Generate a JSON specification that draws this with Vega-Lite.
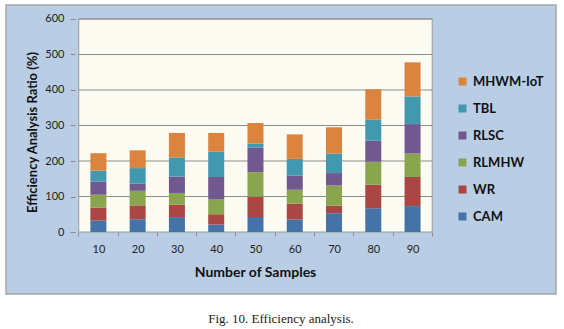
{
  "$schema": "https://vega.github.io/schema/vega-lite/v6.json",
  "width": 550,
  "height": 289,
  "autosize": "none",
  "padding": {"left": 6, "top": 5, "right": 8, "bottom": 35},
  "background": "#ffffff",
  "config": {
    "view": {"fill": "#B9CDE5", "stroke": "#A6A6A6", "strokeWidth": 1.5},
    "font": "Lato"
  },
  "title": {
    "text": "Fig. 10.  Efficiency analysis.",
    "orient": "bottom",
    "anchor": "middle",
    "frame": "group",
    "font": "Liberation Serif",
    "fontSize": 13,
    "fontWeight": "normal",
    "color": "#222222",
    "offset": 19
  },
  "datasets": {
    "bars": [
      {"n": 10, "series": "CAM", "v": 32}, {"n": 10, "series": "WR", "v": 37}, {"n": 10, "series": "RLMHW", "v": 36}, {"n": 10, "series": "RLSC", "v": 37}, {"n": 10, "series": "TBL", "v": 31}, {"n": 10, "series": "MHWM-IoT", "v": 49},
      {"n": 20, "series": "CAM", "v": 36}, {"n": 20, "series": "WR", "v": 39}, {"n": 20, "series": "RLMHW", "v": 41}, {"n": 20, "series": "RLSC", "v": 20}, {"n": 20, "series": "TBL", "v": 44}, {"n": 20, "series": "MHWM-IoT", "v": 50},
      {"n": 30, "series": "CAM", "v": 42}, {"n": 30, "series": "WR", "v": 35}, {"n": 30, "series": "RLMHW", "v": 33}, {"n": 30, "series": "RLSC", "v": 46}, {"n": 30, "series": "TBL", "v": 54}, {"n": 30, "series": "MHWM-IoT", "v": 69},
      {"n": 40, "series": "CAM", "v": 21}, {"n": 40, "series": "WR", "v": 29}, {"n": 40, "series": "RLMHW", "v": 43}, {"n": 40, "series": "RLSC", "v": 62}, {"n": 40, "series": "TBL", "v": 71}, {"n": 40, "series": "MHWM-IoT", "v": 53},
      {"n": 50, "series": "CAM", "v": 42}, {"n": 50, "series": "WR", "v": 57}, {"n": 50, "series": "RLMHW", "v": 69}, {"n": 50, "series": "RLSC", "v": 69}, {"n": 50, "series": "TBL", "v": 12}, {"n": 50, "series": "MHWM-IoT", "v": 58},
      {"n": 60, "series": "CAM", "v": 35}, {"n": 60, "series": "WR", "v": 45}, {"n": 60, "series": "RLMHW", "v": 39}, {"n": 60, "series": "RLSC", "v": 40}, {"n": 60, "series": "TBL", "v": 47}, {"n": 60, "series": "MHWM-IoT", "v": 69},
      {"n": 70, "series": "CAM", "v": 53}, {"n": 70, "series": "WR", "v": 21}, {"n": 70, "series": "RLMHW", "v": 57}, {"n": 70, "series": "RLSC", "v": 35}, {"n": 70, "series": "TBL", "v": 55}, {"n": 70, "series": "MHWM-IoT", "v": 74},
      {"n": 80, "series": "CAM", "v": 67}, {"n": 80, "series": "WR", "v": 66}, {"n": 80, "series": "RLMHW", "v": 65}, {"n": 80, "series": "RLSC", "v": 59}, {"n": 80, "series": "TBL", "v": 59}, {"n": 80, "series": "MHWM-IoT", "v": 86},
      {"n": 90, "series": "CAM", "v": 73}, {"n": 90, "series": "WR", "v": 82}, {"n": 90, "series": "RLMHW", "v": 66}, {"n": 90, "series": "RLSC", "v": 83}, {"n": 90, "series": "TBL", "v": 78}, {"n": 90, "series": "MHWM-IoT", "v": 96}
    ],
    "grid": [{"g": 100}, {"g": 200}, {"g": 300}, {"g": 400}, {"g": 500}, {"g": 600}]
  },
  "layer": [
    {
      "data": {"values": [{}]},
      "mark": {"type": "rect", "fill": "#FBFBF2", "stroke": "#9A9A9A", "strokeWidth": 1},
      "encoding": {
        "x": {"datum": 5, "type": "quantitative", "scale": {"domain": [-12.25, 125.25], "nice": false, "zero": false}},
        "x2": {"datum": 95},
        "y": {"datum": 0, "type": "quantitative", "scale": {"domain": [-174.6, 639.4], "nice": false, "zero": false}},
        "y2": {"datum": 600}
      }
    },
    {
      "data": {"name": "grid"},
      "mark": {"type": "rule", "color": "#8C8C8C", "strokeWidth": 1},
      "encoding": {
        "x": {"datum": 5, "type": "quantitative"},
        "x2": {"datum": 95},
        "y": {"field": "g", "type": "quantitative"}
      }
    },
    {
      "data": {"name": "bars"},
      "transform": [
        {"calculate": "indexof(['CAM','WR','RLMHW','RLSC','TBL','MHWM-IoT'], datum.series)", "as": "ord"}
      ],
      "mark": {"type": "bar", "width": 16},
      "encoding": {
        "x": {
          "field": "n", "type": "quantitative",
          "axis": {
            "values": [10, 20, 30, 40, 50, 60, 70, 80, 90, 100],
            "offset": -62,
            "domain": false,
            "grid": false,
            "tickColor": "#8C8C8C",
            "tickSize": 4,
            "tickOffset": -20,
            "labelOffset": 20,
            "labelExpr": "datum.value < 95 ? datum.label : ''",
            "labelOverlap": false,
            "labelFlush": false,
            "labelFont": "Lato",
            "labelFontSize": 11,
            "labelColor": "#222222",
            "labelPadding": 7,
            "title": "Number of Samples",
            "titleFont": "Lato",
            "titleFontSize": 14,
            "titleFontWeight": "bold",
            "titleColor": "#111111",
            "titleX": 249,
            "titleY": 40,
            "titleAnchor": "middle",
            "titleAlign": "center",
            "titleBaseline": "middle"
          }
        },
        "y": {
          "field": "v", "type": "quantitative", "stack": "zero",
          "axis": {
            "values": [0, 100, 200, 300, 400, 500, 600],
            "offset": -69,
            "domain": false,
            "grid": false,
            "tickColor": "#8C8C8C",
            "tickSize": 5,
            "labelFont": "Lato",
            "labelFontSize": 11,
            "labelColor": "#222222",
            "labelPadding": 6,
            "title": "Efficiency Analysis Ratio (%)",
            "titleFont": "Lato",
            "titleFontSize": 13,
            "titleFontWeight": "bold",
            "titleColor": "#111111",
            "titleX": -43,
            "titleY": 127,
            "titleAngle": -90,
            "titleAlign": "center",
            "titleBaseline": "middle"
          }
        },
        "color": {
          "field": "series", "type": "nominal",
          "scale": {
            "domain": ["MHWM-IoT", "TBL", "RLSC", "RLMHW", "WR", "CAM"],
            "range": ["#DB843D", "#4198AF", "#71588F", "#89A54E", "#AA4643", "#4572A7"]
          },
          "legend": {
            "title": null,
            "orient": "none",
            "legendX": 450,
            "legendY": 70,
            "symbolType": "square",
            "symbolSize": 64,
            "symbolStrokeWidth": 0,
            "labelFont": "Lato",
            "labelFontSize": 13,
            "labelFontWeight": "bold",
            "labelColor": "#111111",
            "labelOffset": 4,
            "rowPadding": 13
          }
        },
        "order": {"field": "ord", "type": "quantitative"}
      }
    }
  ]
}
